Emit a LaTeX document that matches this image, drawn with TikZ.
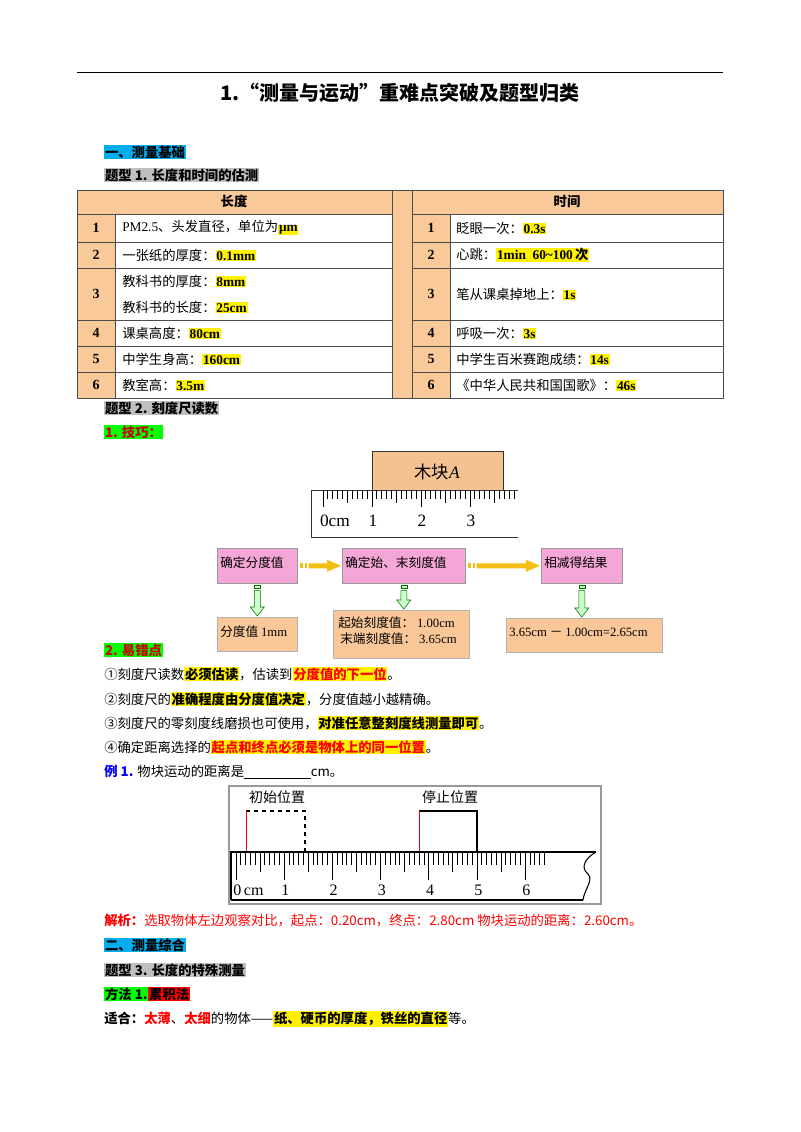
\documentclass[tikz,border=0pt]{standalone}
\usepackage{fontspec}
\setmainfont{Noto Sans CJK SC}
\newfontfamily\lat{Liberation Serif}
\usetikzlibrary{calc}
\definecolor{peach}{HTML}{FAC99A}
\definecolor{pinkb}{HTML}{F4A6D7}
\definecolor{boxo}{HTML}{FAC898}
\definecolor{arrY}{HTML}{F5BE12}
\newcommand{\hl}[1]{{\setlength{\fboxsep}{0.6pt}\colorbox{yellow}{#1}}}
\newcommand{\bg}[2]{{\setlength{\fboxsep}{0.6pt}\colorbox{#1}{#2}}}
\begin{document}
\begin{tikzpicture}[x=0.75pt,y=-0.75pt,
  txt/.style={anchor=west,inner sep=0pt,font=\fontsize{10pt}{12pt}\selectfont},
  num/.style={inner sep=0pt,font=\lat\bfseries\fontsize{10.5pt}{12pt}\selectfont},
  cell/.style={draw=black!70,line width=0.5pt},
  pbox/.style={draw=black!40,fill=pinkb,inner sep=0pt},
  obox/.style={draw=black!30,fill=boxo,inner sep=0pt},
  flt/.style={anchor=west,inner sep=0pt,font=\fontsize{9.5pt}{12pt}\selectfont}]
\useasboundingbox (0,0) rectangle (800,1132);
\fill[white] (0,0) rectangle (800,1132);
\draw[line width=0.6pt] (77,72) -- (723,72);
\node[font=\bfseries\fontsize{15pt}{18pt}\selectfont] (title) at (400,93) {1.“测量与运动”重难点突破及题型归类};
\node[txt,font=\bfseries\fontsize{10pt}{12pt}\selectfont] (h1) at (104,152) {\bg{cyan}{一、测量基础}};
\node[txt,font=\bfseries\fontsize{10pt}{12pt}\selectfont] (h2) at (104,175) {\bg{black!25}{题型 1. 长度和时间的估测}};
% table
\fill[peach] (77,190) rectangle (723,214);
\fill[peach] (77,214) rectangle (115,398);
\fill[peach] (392,214) rectangle (412,398);
\fill[peach] (412,214) rectangle (450,398);
\draw[cell] (77,190) rectangle (723,398);
\draw[cell] (392,190) -- (392,398) (412,190) -- (412,398);
\draw[cell] (115,214) -- (115,398) (450,214) -- (450,398);
\foreach \y in {214,242,268,320,346,372}{
  \draw[cell] (77,\y) -- (392,\y) (412,\y) -- (723,\y);}
\node[font=\bfseries\fontsize{10pt}{12pt}\selectfont] (hl) at (234,201) {长度};
\node[font=\bfseries\fontsize{10pt}{12pt}\selectfont] (hr) at (567,201) {时间};
\foreach \n/\y in {1/228,2/255,3/294,4/333,5/359,6/385}{
  \node[num] (ln\n) at (96,\y) {\n};
  \node[num] (rn\n) at (431,\y) {\n};}
\node[txt] (l1) at (122,228) {{\lat PM2.5}、头发直径，单位为\hl{\lat\bfseries μm}};
\node[txt] (l2) at (122,255) {一张纸的厚度：\hl{\lat\bfseries 0.1mm}};
\node[txt] (l3a) at (122,281) {教科书的厚度：\hl{\lat\bfseries 8mm}};
\node[txt] (l3b) at (122,307) {教科书的长度：\hl{\lat\bfseries 25cm}};
\node[txt] (l4) at (122,333) {课桌高度：\hl{\lat\bfseries 80cm}};
\node[txt] (l5) at (122,359) {中学生身高：\hl{\lat\bfseries 160cm}};
\node[txt] (l6) at (122,385) {教室高：\hl{\lat\bfseries 3.5m}};
\node[txt] (r1) at (456,228) {眨眼一次：\hl{\lat\bfseries 0.3s}};
\node[txt] (r2) at (456,255) {心跳：\hl{\lat\bfseries 1min\ \ 60\textasciitilde100\,\normalfont\bfseries 次}};
\node[txt] (r3) at (456,294) {笔从课桌掉地上：\hl{\lat\bfseries 1s}};
\node[txt] (r4) at (456,333) {呼吸一次：\hl{\lat\bfseries 3s}};
\node[txt] (r5) at (456,359) {中学生百米赛跑成绩：\hl{\lat\bfseries 14s}};
\node[txt] (r6) at (456,385) {《中华人民共和国国歌》：\hl{\lat\bfseries 46s}};
\node[txt,font=\bfseries\fontsize{10pt}{12pt}\selectfont] (h3) at (104,408) {\bg{black!25}{题型 2. 刻度尺读数}};
\node[txt,font=\bfseries\fontsize{10pt}{12pt}\selectfont] (h4) at (104,432) {\bg{green}{\color{red!80!black}1. 技巧：}};
% ruler 1
\draw[fill=peach!90!brown,draw=black!80] (372,451) rectangle (503,490);
\node[font=\fontsize{13pt}{14pt}\selectfont] (blockA) at (437,472) {木块{\lat\itshape A}};
\draw[black!80,line width=0.7pt] (518,490) -- (311,490) -- (311,537) -- (518,537);
\foreach \i in {0,...,39}{
  \pgfmathsetmacro{\xx}{323+\i*4.9}
  \pgfmathsetmacro{\ll}{ifthenelse(mod(\i,10)==0,17,ifthenelse(mod(\i,5)==0,13,9))}
  \draw[black,line width=0.7pt] (\xx,490) -- (\xx,490+\ll);}
\node[font=\lat\fontsize{13pt}{14pt}\selectfont] (r1a) at (335,521) {0cm};
\node[font=\lat\fontsize{13pt}{14pt}\selectfont] (r1b) at (373,521) {1};
\node[font=\lat\fontsize{13pt}{14pt}\selectfont] (r1c) at (422,521) {2};
\node[font=\lat\fontsize{13pt}{14pt}\selectfont] (r1d) at (471,521) {3};
% flow
\node[pbox,minimum width=60pt,minimum height=26.25pt,anchor=north west] (p1) at (217,548) {};
\node[flt] at (220,563) {确定分度值};
\node[pbox,minimum width=92.25pt,minimum height=26.25pt,anchor=north west] (p2) at (342,548) {};
\node[flt] at (345,563) {确定始、末刻度值};
\node[pbox,minimum width=60.75pt,minimum height=26.25pt,anchor=north west] (p3) at (541,548) {};
\node[flt] at (544,563) {相减得结果};
\node[obox,minimum width=60pt,minimum height=25.5pt,anchor=north west] (o1) at (217,617) {};
\node[flt] at (220,632) {分度值 {\lat 1mm}};
\node[obox,minimum width=102pt,minimum height=36pt,anchor=north west] (o2) at (333,610) {};
\node[flt] at (338,623) {起始刻度值：\ {\lat 1.00cm}};
\node[flt] at (340,639) {末端刻度值：\ {\lat 3.65cm}};
\node[obox,minimum width=117pt,minimum height=25.5pt,anchor=north west] (o3) at (506,618) {};
\node[flt] at (509,632) {{\lat 3.65cm} － {\lat 1.00cm=2.65cm}};
% yellow arrows
\foreach \a/\b in {p1/p2,p2/p3}{
  \path ($(\a.east)+(2,0)$) coordinate (s) ($(\b.west)+(-1,0)$) coordinate (e);
  \fill[arrY] ($(s)+(0,-2.5)$) rectangle ($(s)+(3,2.5)$);
  \fill[arrY] ($(s)+(5,-2.5)$) rectangle ($(s)+(7,2.5)$);
  \fill[arrY] ($(s)+(9,-2.5)$) -- ($(e)+(-14,-2.5)$) -- ($(e)+(-14,-6)$) -- (e) -- ($(e)+(-14,6)$) -- ($(e)+(-14,2.5)$) -- ($(s)+(9,2.5)$) -- cycle;}
% green arrows
\foreach \a/\b in {p1/o1,p2/o2,p3/o3}{
  \path ($(\a.south)+(0,2)$) coordinate (s) let \p1=(s), \p2=(\b.north) in coordinate (e) at (\x1,\y2);
  \draw[green!45!black,fill=green!20,line width=0.4pt] ($(s)+(-3,0)$) rectangle ($(s)+(3,3)$);
  \draw[green!45!black,fill=green!20,line width=0.4pt] ($(s)+(-3,5)$) -- ($(s)+(3,5)$) -- ($(e)+(3,-10)$) -- ($(e)+(7,-10)$) -- ($(e)+(0,-1)$) -- ($(e)+(-7,-10)$) -- ($(e)+(-3,-10)$) -- cycle;}
% list
\node[txt,font=\bfseries\fontsize{10pt}{12pt}\selectfont] (h5) at (104,650) {\bg{green}{\color{red!80!black}2. 易错点}};
\node[txt] (e1) at (104,674) {①刻度尺读数\hl{\bfseries 必须估读}，估读到\hl{\bfseries\color{red}分度值的下一位}。};
\node[txt] (e2) at (104,699) {②刻度尺的\hl{\bfseries 准确程度由分度值决定}，分度值越小越精确。};
\node[txt] (e3) at (104,723) {③刻度尺的零刻度线磨损也可使用，\hl{\bfseries 对准任意整刻度线测量即可}。};
\node[txt] (e4) at (104,747) {④确定距离选择的\hl{\bfseries\color{red}起点和终点必须是物体上的同一位置}。};
\node[txt] (ex) at (104,772) {{\bfseries\color{blue}例 1.} 物块运动的距离是\underline{\hspace{50pt}}cm。};
% ruler 2
\draw[black!40,line width=0.8pt] (229,786) rectangle (601,904);
\node[font=\fontsize{10.5pt}{12pt}\selectfont] (ini) at (277,797) {初始位置};
\node[font=\fontsize{10.5pt}{12pt}\selectfont] (stp) at (450,797) {停止位置};
\draw[dashed,line width=0.8pt] (246,811) -- (305,811) -- (305,852);
\draw[red,line width=0.7pt] (246,811) -- (246,852);
\draw[line width=0.8pt] (419,811) -- (477,811) -- (477,852);
\draw[red,line width=0.7pt] (419,811) -- (419,852);
\draw[line width=0.8pt] (231,900) -- (231,852) -- (596,852);
\draw[line width=0.8pt] (231,900) -- (583,900);
\draw[line width=0.8pt] (596,852) .. controls (585,858) and (580,868) .. (588,874) .. controls (594,880) and (584,890) .. (583,900);
\foreach \i in {0,...,64}{
  \pgfmathsetmacro{\xx}{236+\i*4.82}
  \pgfmathsetmacro{\ll}{ifthenelse(mod(\i,10)==0,28,ifthenelse(mod(\i,5)==0,20,13))}
  \draw[line width=0.7pt] (\xx,852) -- (\xx,852+\ll);}
\foreach \k/\t in {0/0\,cm,1/1,2/2,3/3,4/4,5/5,6/6}{
  \node[font=\lat\fontsize{12pt}{13pt}\selectfont,anchor=west,inner sep=0pt] (t\k) at (236+\k*48.2-3,890) {\t};}
% analysis
\node[txt,text=red] (ana) at (104,920) {{\bfseries 解析：}选取物体左边观察对比，起点：0.20cm，终点：2.80cm 物块运动的距离：2.60cm。};
\node[txt,font=\bfseries\fontsize{10pt}{12pt}\selectfont] (h6) at (104,945) {\bg{cyan}{二、测量综合}};
\node[txt,font=\bfseries\fontsize{10pt}{12pt}\selectfont] (h7) at (104,970) {\bg{black!25}{题型 3. 长度的特殊测量}};
\node[txt,font=\bfseries\fontsize{10pt}{12pt}\selectfont] (h8) at (104,994) {\bg{green}{方法 1.}\bg{red}{累积法}};
\node[txt] (fit) at (104,1019) {{\bfseries 适合：}{\bfseries\color{red}太薄}、{\bfseries\color{red}太细}的物体——\hl{\bfseries 纸、硬币的厚度，铁丝的直径}等。};
\end{tikzpicture}
\end{document}
